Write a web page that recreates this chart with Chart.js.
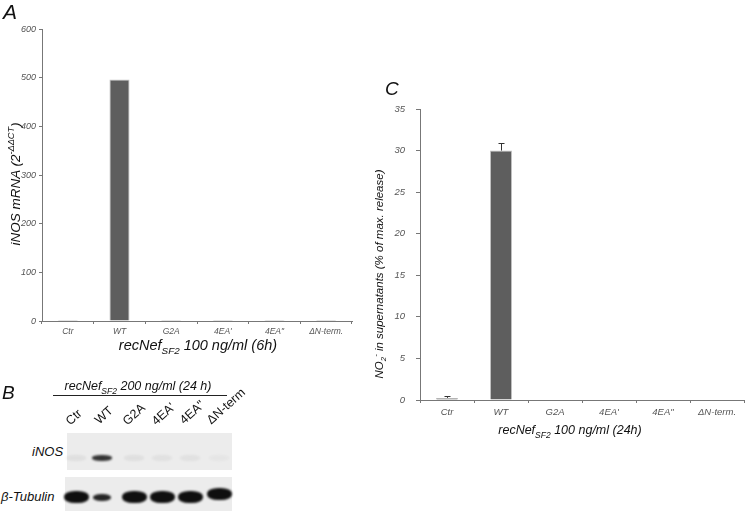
<!DOCTYPE html>
<html>
<head>
<meta charset="utf-8">
<script src="https://cdn.jsdelivr.net/npm/chart.js@4"></script>
<style>
  html, body { margin:0; padding:0; background:#fff; }
  body { width:745px; height:517px; position:relative; overflow:hidden; font-family:"Liberation Sans", Arial, sans-serif; color:#111; }
  .abs { position:absolute; white-space:nowrap; }
  .it { font-style:italic; }
  .letter { font-style:italic; line-height:1; }
  .rotY { transform: translate(-50%,-50%) rotate(-90deg); }
  .ctr { transform: translate(-50%,-50%); }
  sub, sup { font-size:0.68em; line-height:0; }
  .lane { position:absolute; font-size:12.5px; transform-origin: 0 100%; transform: rotate(-42deg); white-space:nowrap; line-height:1; color:#111; }
  .blot { position:absolute; background:#ececec; }
  .band { position:absolute; border-radius:45%; filter: blur(1.2px); }
</style>
</head>
<body>
<canvas id="chartA" class="abs" style="left:0;top:0" width="360" height="350"></canvas>
<canvas id="chartC" class="abs" style="left:370px;top:60px" width="375" height="390"></canvas>

<div class="abs letter" style="left:3px;top:1px;font-size:21px;">A</div>
<div class="abs letter" style="left:2px;top:383px;font-size:19px;">B</div>
<div class="abs letter" style="left:385px;top:79px;font-size:19px;">C</div>

<div class="abs it rotY" style="left:15px;top:184px;font-size:13.5px;">iNOS mRNA (2<sup>-ΔΔCT</sup>)</div>
<div class="abs it ctr" style="left:198px;top:345px;font-size:14.5px;">recNef<sub>SF2</sub> 100 ng/ml (6h)</div>

<div class="abs it rotY" style="left:379px;top:274px;font-size:11.5px;">NO<sub>2</sub><sup>-</sup> in supernatants (% of max. release)</div>
<div class="abs it ctr" style="left:570px;top:430px;font-size:12.5px;">recNef<sub>SF2</sub> 100 ng/ml (24h)</div>

<div class="abs it ctr" style="left:138px;top:386px;font-size:12.5px;">recNef<sub>SF2</sub> 200 ng/ml (24 h)</div>
<div class="abs" style="left:53px;top:395px;width:174px;height:1px;background:#222;"></div>
<div class="abs it" style="left:32px;top:444px;font-size:13px;">iNOS</div>
<div class="abs it" style="left:1px;top:489px;font-size:13px;">β-Tubulin</div>
<div id="blotArea"></div>

<script>
// ---- data ----
const categories = ["Ctr", "WT", "G2A", "4EA'", "4EA\"", "ΔN-term."];
const mrnaValues = [2, 496, 2, 2, 2, 2];
const mrnaTicks = [0, 100, 200, 300, 400, 500, 600];
const no2Values = [0.25, 30, 0, 0, 0, 0];
const no2Errors = [0.2, 0.9, 0, 0, 0, 0];
const no2Ticks = [0, 5, 10, 15, 20, 25, 30, 35];
const blotLanes = ["Ctr", "WT", "G2A", "4EA'", "4EA\"", "ΔN-term"];
const inosIntensity = [0.06, 0.85, 0.06, 0.05, 0.05, 0.03];
const tubulinIntensity = [1.0, 0.9, 1.0, 1.0, 1.0, 1.0];

// ---- blot (photograph, drawn as HTML) ----
(function(){
  const area = document.getElementById('blotArea');
  const laneCenters = [76, 102, 134, 162, 190, 219];
  const labelPos = [[72,415],[101,414],[129,415],[158,415],[186,414],[213,414]];
  const add = (cls, css, txt) => { const d = document.createElement('div'); d.className = cls; Object.assign(d.style, css); if (txt) d.textContent = txt; area.appendChild(d); return d; };
  add('blot', {left:'67px', top:'433px', width:'165px', height:'37px'});
  add('blot', {left:'65px', top:'477px', width:'167px', height:'34px'});
  blotLanes.forEach((lab, i) => {
    add('lane', {left: labelPos[i][0]+'px', top: labelPos[i][1]+'px'}, lab);
    const c = laneCenters[i];
    const a = inosIntensity[i];
    add('band', {left:(c-10)+'px', top:'455px', width:'20px', height:'6px', background:'rgba(20,20,20,'+a+')'});
    const t = tubulinIntensity[i];
    const w = i === 1 ? 18 : 25;
    const h = i === 1 ? 7 : 12;
    const cy = i === 5 ? 494 : 497;
    add('band', {left:(c-w/2)+'px', top:(cy-h/2)+'px', width:w+'px', height:h+'px', background:'rgba(15,15,15,'+t+')'});
  });
})();

// ---- charts ----
const FONT = '"Liberation Sans", Arial, sans-serif';
const tickGray = '#555';
const axisGray = '#777';

const errorBarPlugin = {
  id: 'errbars',
  afterDatasetsDraw(chart, args, opts) {
    if (!opts.errors) return;
    const ctx = chart.ctx;
    const meta = chart.getDatasetMeta(0);
    const ys = chart.scales.y;
    ctx.save();
    ctx.strokeStyle = '#333';
    ctx.lineWidth = 1;
    meta.data.forEach((bar, i) => {
      const e = opts.errors[i];
      if (!e) return;
      const v = chart.data.datasets[0].data[i];
      const x = Math.round(bar.x) + 0.5;
      const y0 = ys.getPixelForValue(v);
      const y1 = Math.round(ys.getPixelForValue(v + e)) + 0.5;
      ctx.beginPath();
      ctx.moveTo(x, y0);
      ctx.lineTo(x, y1);
      ctx.moveTo(x - 3, y1);
      ctx.lineTo(x + 3, y1);
      ctx.stroke();
    });
    ctx.restore();
  }
};

function makeChart(id, labels, values, ticks, cfg) {
  return new Chart(document.getElementById(id), {
    type: 'bar',
    data: {
      labels: labels,
      datasets: [{
        data: values,
        backgroundColor: '#5e5e5e',
        borderColor: '#c4c4c4',
        borderWidth: 1,
        borderSkipped: 'start',
        categoryPercentage: 1,
        barPercentage: cfg.barPct
      }]
    },
    options: {
      responsive: false,
      animation: false,
      devicePixelRatio: 1,
      layout: { padding: cfg.padding },
      plugins: { legend: { display: false }, tooltip: { enabled: false }, errbars: { errors: cfg.errors } },
      scales: {
        x: {
          grid: { display: true, drawOnChartArea: false, drawTicks: true, tickLength: 3, color: axisGray, offset: true },
          border: { display: true, color: axisGray, width: 1 },
          ticks: { color: tickGray, padding: cfg.xPad, maxRotation: 0, autoSkip: false, font: { family: FONT, style: 'italic', size: cfg.xFont } },
          afterFit: s => { s.height = cfg.xHeight; }
        },
        y: {
          min: ticks[0], max: ticks[ticks.length - 1],
          afterBuildTicks: s => { s.ticks = ticks.map(v => ({ value: v })); },
          grid: { display: true, drawOnChartArea: false, drawTicks: true, tickLength: cfg.yTickLen, color: axisGray },
          border: { display: true, color: axisGray, width: 1 },
          ticks: { color: tickGray, padding: cfg.yPad, font: { family: FONT, style: 'italic', size: cfg.yFont } },
          afterFit: s => { s.width = cfg.yWidth; }
        }
      }
    },
    plugins: [errorBarPlugin]
  });
}

makeChart('chartA', categories, mrnaValues, mrnaTicks, {
  barPct: 0.39, padding: { top: 29, left: 0, right: 8, bottom: 0 },
  xHeight: 29, yWidth: 42, xFont: 8.5, yFont: 9, xPad: 3, yPad: 3, yTickLen: 3, errors: null
});

makeChart('chartC', categories, no2Values, no2Ticks, {
  barPct: 0.41, padding: { top: 49, left: 0, right: 1, bottom: 0 },
  xHeight: 50, yWidth: 50, xFont: 9.5, yFont: 9.5, xPad: 4, yPad: 11, yTickLen: 4, errors: no2Errors
});
</script>
</body>
</html>
